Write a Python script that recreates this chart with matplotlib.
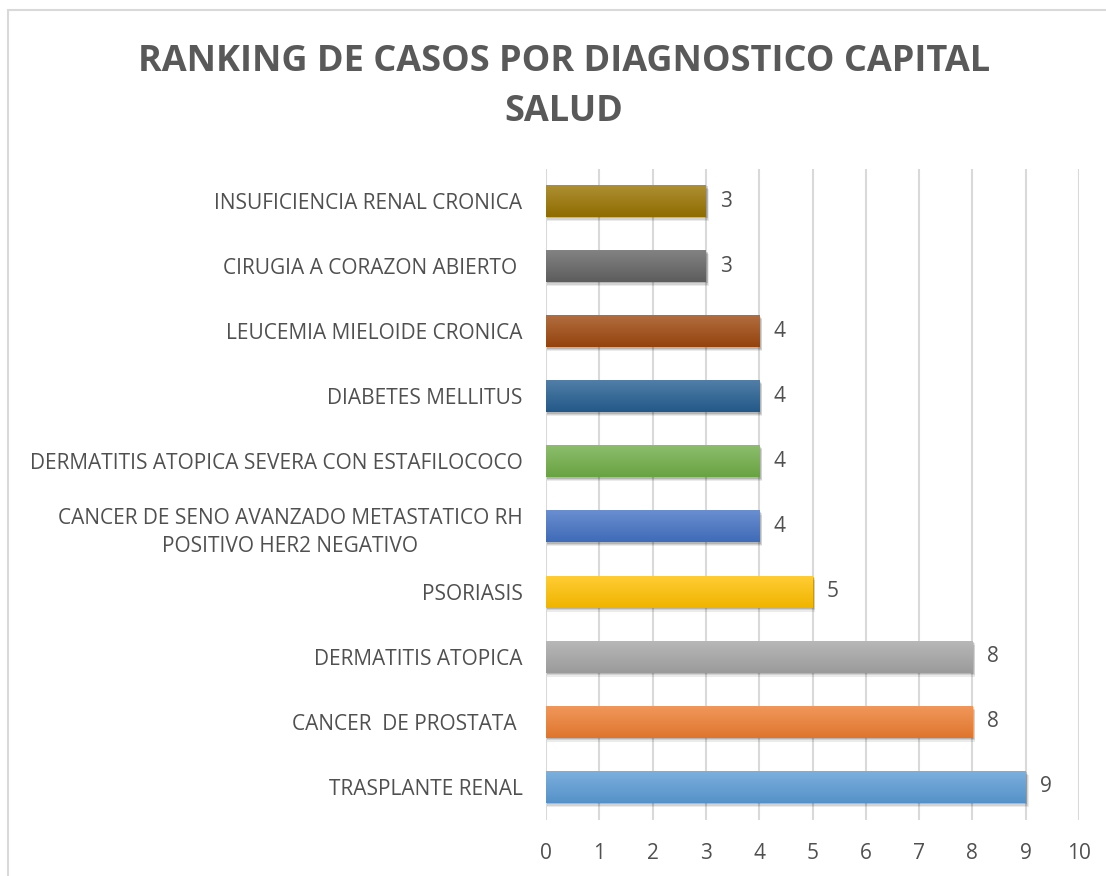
import numpy as np
import matplotlib
matplotlib.use("Agg")
import matplotlib.pyplot as plt
from matplotlib.patches import Rectangle
from matplotlib.colors import to_rgb

# datos (de abajo hacia arriba)
categorias = [
    "TRASPLANTE RENAL",
    "CANCER  DE PROSTATA ",
    "DERMATITIS ATOPICA",
    "PSORIASIS",
    "CANCER DE SENO AVANZADO METASTATICO RH\nPOSITIVO HER2 NEGATIVO",
    "DERMATITIS ATOPICA SEVERA CON ESTAFILOCOCO",
    "DIABETES MELLITUS",
    "LEUCEMIA MIELOIDE CRONICA",
    "CIRUGIA A CORAZON ABIERTO ",
    "INSUFICIENCIA RENAL CRONICA",
]
casos = [9, 8, 8, 5, 4, 4, 4, 4, 3, 3]
colores = ["#5B9BD5", "#ED7D31", "#A5A5A5", "#FFC000", "#4472C4",
           "#70AD47", "#255E91", "#9E480E", "#636363", "#997300"]
ticks_x = list(range(0, 11))

W, H = 1106, 876
fig = plt.figure(figsize=(W / 100, H / 100), dpi=100)
fig.patch.set_facecolor("white")

# borde del grafico
fig.add_artist(Rectangle((8 / W, -0.1), 1.2, 1 - 10 / H + 0.1,
                         transform=fig.transFigure, fill=False,
                         edgecolor="#D9D9D9", linewidth=1.5))

ax = fig.add_axes([546 / W, 1 - 819.5 / H, (1079 - 546) / W, (819.5 - 168.5) / H])

for x in ticks_x:
    ax.axvline(x, color="#D9D9D9", linewidth=1.5, zorder=0)

def mezcla(c, otro, t):
    c = np.array(to_rgb(c)); o = np.array(otro)
    return c * (1 - t) + o * t

h = 0.49
texto = "#505050"
for i, (v, c) in enumerate(zip(casos, colores)):
    # sombra
    for k, a in [(0.06, 0.08), (0.04, 0.10), (0.02, 0.14)]:
        ax.add_patch(Rectangle((0.02, i - h / 2 - k), v + k * 0.6, h,
                               facecolor="black", alpha=a, linewidth=0, zorder=1))
    top = mezcla(c, (1, 1, 1), 0.2)
    bot = mezcla(c, (0, 0, 0), 0.06)
    grad = np.linspace(0, 1, 32)[:, None]
    img = top[None, None, :] * (1 - grad[..., None]) + bot[None, None, :] * grad[..., None]
    ax.imshow(img, extent=(0, v, i - h / 2, i + h / 2), aspect="auto",
              interpolation="bilinear", zorder=2, origin="upper")
    ax.text(v + 0.27, i, str(v), va="center", ha="left", fontsize=15,
            color=texto, family="Open Sans")

ax.set_xlim(0, 10)
ax.set_ylim(-0.5, len(categorias) - 0.5)
ax.set_yticks(range(len(categorias)))
ax.set_yticklabels(categorias, fontsize=15, color=texto,
                   family="Open Sans", multialignment="center", linespacing=1.45)
ax.set_xticks(ticks_x)
ax.set_xticklabels([str(t) for t in ticks_x], fontsize=15, color=texto,
                   family="Open Sans")
ax.tick_params(axis="y", length=0, pad=17)
ax.tick_params(axis="x", length=0, pad=17)
for s in ax.spines.values():
    s.set_visible(False)

fig.text(564 / W, 1 - 62 / H, "RANKING DE CASOS POR DIAGNOSTICO CAPITAL",
         ha="center", va="center", fontsize=26, fontweight="bold",
         color="#595959", family="Open Sans")
fig.text(564 / W, 1 - 112 / H, "SALUD",
         ha="center", va="center", fontsize=26, fontweight="bold",
         color="#595959", family="Open Sans")

fig.savefig("out.png", dpi=100, facecolor="white")
